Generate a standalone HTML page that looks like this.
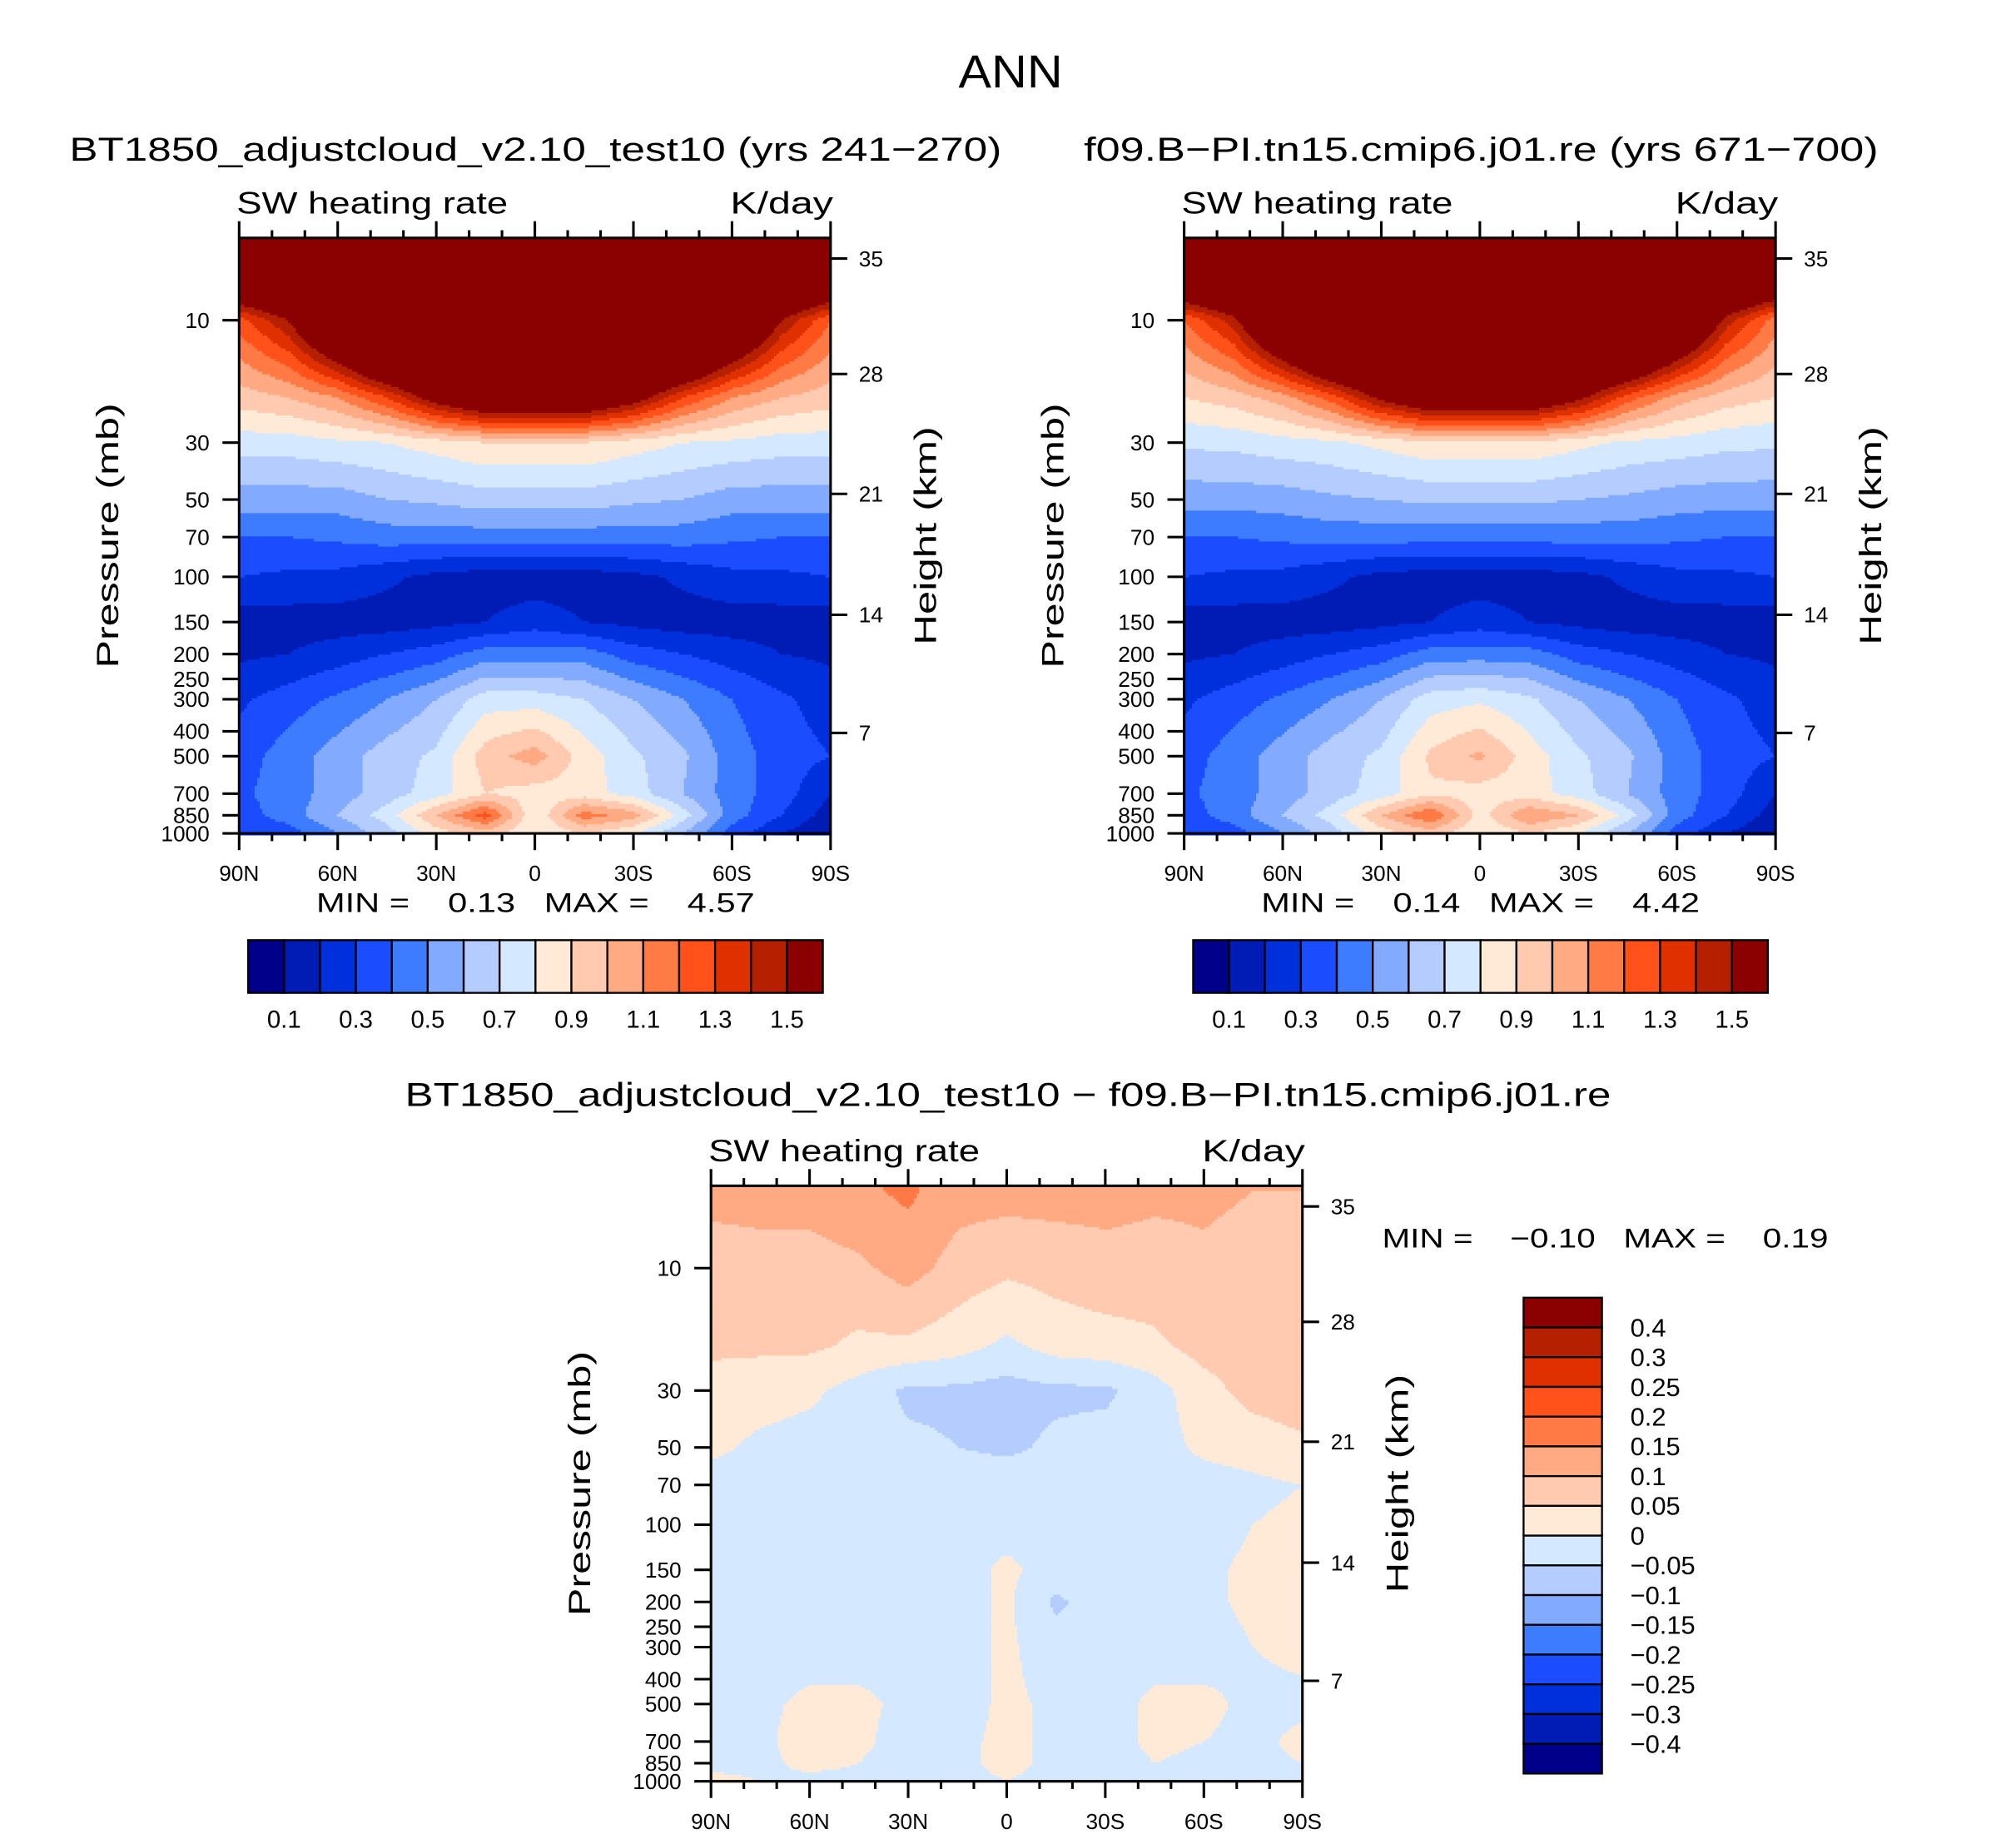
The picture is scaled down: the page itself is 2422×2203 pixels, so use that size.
<!DOCTYPE html>
<html><head><meta charset="utf-8"><style>
html,body{margin:0;padding:0;background:#fff;}
svg{display:block;font-family:"Liberation Sans",sans-serif;}
</style></head><body>
<svg id="fig" xmlns="http://www.w3.org/2000/svg" width="2422" height="2203" viewBox="0 0 1568 1426" preserveAspectRatio="none">
<text x="786" y="68" font-size="36" text-anchor="middle" textLength="81" lengthAdjust="spacingAndGlyphs">ANN</text>
</svg>
<script>
const lats=[90,75,60,45,30,15,0,-15,-30,-45,-60,-75,-90];
const levs=[5,10,20,30,50,70,100,150,200,300,500,700,850,1000];
const field1=[
[2.5,2.5,2.5,2.5,2.5,2.5,2.5,2.5,2.5,2.5,2.5,2.5,2.5],
[1.25,1.5,2,2.5,2.5,2.5,2.5,2.5,2.5,2.5,2,1.5,1.2],
[0.95,1.0,1.1,1.3,1.6,1.8,1.8,1.8,1.6,1.3,1.1,1.0,0.95],
[0.75,0.75,0.78,0.8,0.85,0.9,0.9,0.9,0.85,0.8,0.78,0.75,0.75],
[0.55,0.55,0.55,0.6,0.62,0.65,0.65,0.65,0.62,0.6,0.55,0.55,0.55],
[0.4,0.4,0.42,0.45,0.45,0.45,0.45,0.45,0.45,0.45,0.42,0.4,0.4],
[0.3,0.28,0.27,0.22,0.17,0.15,0.15,0.15,0.17,0.22,0.27,0.28,0.3],
[0.15,0.15,0.15,0.15,0.17,0.2,0.25,0.2,0.17,0.15,0.15,0.15,0.15],
[0.18,0.2,0.25,0.3,0.35,0.45,0.45,0.45,0.35,0.3,0.25,0.2,0.18],
[0.28,0.35,0.42,0.5,0.6,0.75,0.75,0.7,0.6,0.5,0.4,0.32,0.25],
[0.35,0.45,0.55,0.65,0.72,0.95,1.05,0.85,0.72,0.62,0.45,0.35,0.3],
[0.38,0.45,0.55,0.65,0.75,0.9,0.85,0.85,0.75,0.6,0.45,0.35,0.2],
[0.35,0.45,0.6,0.75,1.0,1.25,0.8,1.15,1.05,0.75,0.45,0.3,0.15],
[0.3,0.35,0.5,0.65,0.85,0.95,0.8,0.9,0.8,0.6,0.35,0.2,0.1]];
const field2=[
[2.5,2.5,2.5,2.5,2.5,2.5,2.5,2.5,2.5,2.5,2.5,2.5,2.5],
[1.2,1.45,2,2.5,2.5,2.5,2.5,2.5,2.5,2.5,2,1.45,1.15],
[0.9,0.95,1.05,1.25,1.55,1.75,1.75,1.75,1.55,1.25,1.05,0.95,0.9],
[0.72,0.73,0.76,0.78,0.83,0.88,0.88,0.88,0.83,0.78,0.76,0.73,0.72],
[0.54,0.54,0.55,0.58,0.6,0.62,0.62,0.62,0.6,0.58,0.55,0.54,0.54],
[0.4,0.4,0.42,0.44,0.44,0.44,0.44,0.44,0.44,0.44,0.42,0.4,0.4],
[0.3,0.28,0.27,0.22,0.17,0.15,0.15,0.15,0.17,0.22,0.27,0.28,0.3],
[0.15,0.15,0.15,0.15,0.17,0.2,0.25,0.2,0.17,0.15,0.15,0.15,0.15],
[0.18,0.2,0.25,0.3,0.35,0.45,0.45,0.45,0.35,0.3,0.25,0.2,0.18],
[0.28,0.35,0.42,0.5,0.6,0.75,0.78,0.72,0.6,0.5,0.4,0.32,0.25],
[0.35,0.45,0.55,0.65,0.72,0.92,1.02,0.85,0.72,0.62,0.45,0.35,0.3],
[0.38,0.45,0.55,0.65,0.75,0.88,0.85,0.85,0.75,0.6,0.45,0.35,0.2],
[0.35,0.45,0.6,0.75,1.0,1.2,0.85,1.1,1.0,0.75,0.45,0.3,0.15],
[0.3,0.35,0.5,0.65,0.85,0.95,0.8,0.9,0.8,0.6,0.35,0.2,0.1]];
const field3=[
[0.12,0.12,0.12,0.14,0.16,0.12,0.12,0.12,0.12,0.11,0.11,0.1,0.1],
[0.07,0.08,0.08,0.09,0.12,0.08,0.06,0.07,0.08,0.08,0.09,0.08,0.07],
[0.06,0.06,0.06,0.04,0.04,0.02,-0.01,0.02,0.03,0.04,0.07,0.08,0.08],
[0.03,0.02,0.01,-0.02,-0.06,-0.06,-0.07,-0.06,-0.06,-0.02,0.03,0.07,0.08],
[0.01,-0.01,-0.02,-0.03,-0.04,-0.05,-0.06,-0.04,-0.03,-0.02,0.01,0.02,0.04],
[-0.02,-0.02,-0.02,-0.02,-0.02,-0.02,-0.02,-0.02,-0.02,-0.02,-0.02,-0.01,0.0],
[-0.02,-0.02,-0.02,-0.02,-0.02,-0.02,-0.02,-0.02,-0.02,-0.02,-0.02,0.0,0.01],
[-0.02,-0.02,-0.02,-0.02,-0.02,-0.02,0.01,-0.02,-0.02,-0.02,-0.01,0.01,0.01],
[-0.02,-0.02,-0.02,-0.02,-0.02,-0.02,0.01,-0.06,-0.02,-0.02,-0.01,0.01,0.01],
[-0.02,-0.02,-0.02,-0.02,-0.02,-0.02,0.01,-0.03,-0.02,-0.02,-0.02,0.0,0.01],
[-0.02,-0.01,0.01,0.01,-0.01,-0.02,0.01,-0.01,-0.02,0.01,0.01,-0.01,-0.01],
[-0.02,-0.01,0.02,0.01,-0.02,-0.01,0.01,-0.01,-0.02,0.01,0.0,-0.01,0.01],
[-0.01,-0.01,0.01,0.0,-0.02,-0.01,0.01,-0.01,-0.02,0.0,-0.01,-0.01,0.0],
[0.01,0.0,-0.01,-0.01,-0.01,-0.01,0.0,-0.01,-0.01,-0.01,-0.01,0.0,0.0]];
const levels12=[0.1,0.2,0.3,0.4,0.5,0.6,0.7,0.8,0.9,1.0,1.1,1.2,1.3,1.4,1.5];
const labels12=["0.1","0.3","0.5","0.7","0.9","1.1","1.3","1.5"];
const levels3=[-0.4,-0.3,-0.25,-0.2,-0.15,-0.1,-0.05,0,0.05,0.1,0.15,0.2,0.25,0.3,0.4];
const labels3=["-0.4","-0.3","-0.25","-0.2","-0.15","-0.1","-0.05","0","0.05","0.1","0.15","0.2","0.25","0.3","0.4"];
const colors=["#00008B","#001CB5","#0030DC","#1B4DFF","#3D7BFF","#82AAFF","#B4CCFF","#D4E8FF","#FFEAD7","#FFCAAF","#FFAA82","#FF7A45","#FF5119","#E03000","#B42000","#8B0000"];
const xTickLabels=["90N","60N","30N","0","30S","60S","90S"];
const pTicks=[10,30,50,70,100,150,200,250,300,400,500,700,850,1000];
const hTicks=[7,14,21,28,35];
const hTickP=[406,140.6,47.5,16.2,5.75];

const NS="http://www.w3.org/2000/svg";
const svg=document.getElementById('fig');
function mk(tag,attrs,parent){const e=document.createElementNS(NS,tag);for(const k in attrs)e.setAttribute(k,attrs[k]);(parent||svg).appendChild(e);return e;}
function txt(x,y,s,size,anchor,parent,extra){const e=mk('text',Object.assign({x:x,y:y,'font-size':size,'text-anchor':anchor||'start'},extra||{}),parent);e.textContent=s.replace(/-/g,'\u2212');return e;}
const W=460,H=463,DEC=199.5;
function interp(field,lat,lp){
  let fi=(90-lat)/15; fi=Math.max(0,Math.min(12,fi)); let i0=Math.min(11,Math.floor(fi)); let tx=fi-i0;
  const ll=levs.map(Math.log10);
  let j0=0; if(lp<=ll[0]){j0=0;} else {for(let j=0;j<ll.length-1;j++){if(lp>=ll[j]&&lp<=ll[j+1]){j0=j;break;} if(j==ll.length-2)j0=j;}}
  let ty=(lp-ll[j0])/(ll[j0+1]-ll[j0]); ty=Math.max(0,Math.min(1,ty));
  const a=field[j0][i0]*(1-tx)+field[j0][i0+1]*tx;
  const b=field[j0+1][i0]*(1-tx)+field[j0+1][i0+1]*tx;
  return a*(1-ty)+b*ty;
}
function cidx(v,lv){let k=0;for(const l of lv){if(v>=l)k++;}return k;}
function panel(px,py,field,lv,name,titleStr,titleX,titleW){
  const g=mk('g',{});
  
  
  const xOf=lat=>px+(90-lat)/180*W;
  const yOfP=p=>py+H-(3-Math.log10(p))*DEC;
  const step=2, ncol=W/step|0;
  for(let y=0;y<H;y+=step){
    const lp=3-(H-(y+step/2))/DEC;
    let runStart=0, runC=-1;
    for(let i=0;i<=ncol;i++){
      let c=-1;
      if(i<ncol){const lat=90-(i*step+step/2)/W*180;c=cidx(interp(field,lat,lp),lv);}
      if(c!==runC){
        if(runC>=0){mk('rect',{x:px+runStart*step,y:py+y,width:(i-runStart)*step+0.6,height:step+0.6,fill:colors[runC]},g);}
        runStart=i;runC=c;
      }
    }
  }
  mk('rect',{x:px,y:py,width:W,height:H,fill:'none',stroke:'#000','stroke-width':2},g);
  for(let lat=90;lat>=-90;lat-=10){
    const x=xOf(lat), major=lat%30===0, L=major?13:6;
    mk('line',{x1:x,x2:x,y1:py+H,y2:py+H+L,stroke:'#000','stroke-width':2},g);
    mk('line',{x1:x,x2:x,y1:py,y2:py-L,stroke:'#000','stroke-width':2},g);
  }
  xTickLabels.forEach((s,k)=>{const e=txt(xOf(90-k*30),py+H+37,s,17,'middle',g);});
  pTicks.forEach(p=>{const y=yOfP(p);mk('line',{x1:px,x2:px-13,y1:y,y2:y,stroke:'#000','stroke-width':2},g);
    const e=txt(px-23,y+6,String(p),17,'end',g);});
  hTicks.forEach((h,k)=>{const y=yOfP(hTickP[k]);
    mk('line',{x1:px+W,x2:px+W+13,y1:y,y2:y,stroke:'#000','stroke-width':2},g);
    const e=txt(px+W+22,y+6,String(h),17,'start',g);});
  let t=txt(px-94,py+H/2,'Pressure (mb)',24,'middle',g,{transform:`rotate(-90 ${px-94} ${py+H/2})`,textLength:206,lengthAdjust:'spacingAndGlyphs'});
  
  t=txt(px+W+82,py+H/2,'Height (km)',24,'middle',g,{transform:`rotate(-90 ${px+W+82} ${py+H/2})`,textLength:170,lengthAdjust:'spacingAndGlyphs'});
  
  t=txt(px-2,py-19,'SW heating rate',24,'start',g,{textLength:211,lengthAdjust:'spacingAndGlyphs'});
  
  t=txt(px+W+2,py-19,'K/day',24,'end',g,{textLength:80,lengthAdjust:'spacingAndGlyphs'});
  
  if(titleStr){t=txt(titleX,125,titleStr,26,'start',g,{textLength:titleW,lengthAdjust:'spacingAndGlyphs'});}
  return g;
}
function minmaxText(x,y,mn,mx,w,name){
  const t=mk('text',{x:x,y:y,'font-size':21,'xml:space':'preserve',textLength:w,lengthAdjust:'spacingAndGlyphs'});
  
  
  t.setAttribute('style','white-space:pre');
  t.textContent=('MIN =    '+mn+'   MAX =    '+mx).replace(/-/g,'\u2212');
}
function hbar(x,y,name){
  const g=mk('g',{});
  
  
  const bw=447/16;
  colors.forEach((c,i)=>mk('rect',{x:x+i*bw,y:y,width:bw,height:41,fill:c,stroke:'#000','stroke-width':1.5},g));
  labels12.forEach((s,k)=>{const e=txt(x+(2*k+1)*bw,y+68,s,19,'middle',g);});
}
panel(186,185,field1,levels12,'panel-model','BT1850_adjustcloud_v2.10_test10 (yrs 241-270)',54,725);
panel(921,185,field2,levels12,'panel-control','f09.B-PI.tn15.cmip6.j01.re (yrs 671-700)',843,618);
panel(553,922,field3,levels3,'panel-difference',null);
let tt=txt(315,860,'BT1850_adjustcloud_v2.10_test10 - f09.B-PI.tn15.cmip6.j01.re',26,'start',svg,{textLength:938,lengthAdjust:'spacingAndGlyphs'});

minmaxText(246,709,'0.13','4.57',341,'minmax-model');
minmaxText(981,709,'0.14','4.42',341,'minmax-control');
minmaxText(1075,970,'-0.10','0.19',347,'minmax-difference');
hbar(193,731,'colorbar-model');
hbar(928,731,'colorbar-control');
(function(){
  const g=mk('g',{});
  
  
  const x=1185,y=1009,bh=370/16;
  colors.slice().reverse().forEach((c,i)=>mk('rect',{x:x,y:y+i*bh,width:61,height:bh,fill:c,stroke:'#000','stroke-width':1.5},g));
  labels3.slice().reverse().forEach((s,k)=>{const e=txt(1268,y+(k+1)*bh+7,s,20,'start',g);});
})();
</script>
</body></html>
